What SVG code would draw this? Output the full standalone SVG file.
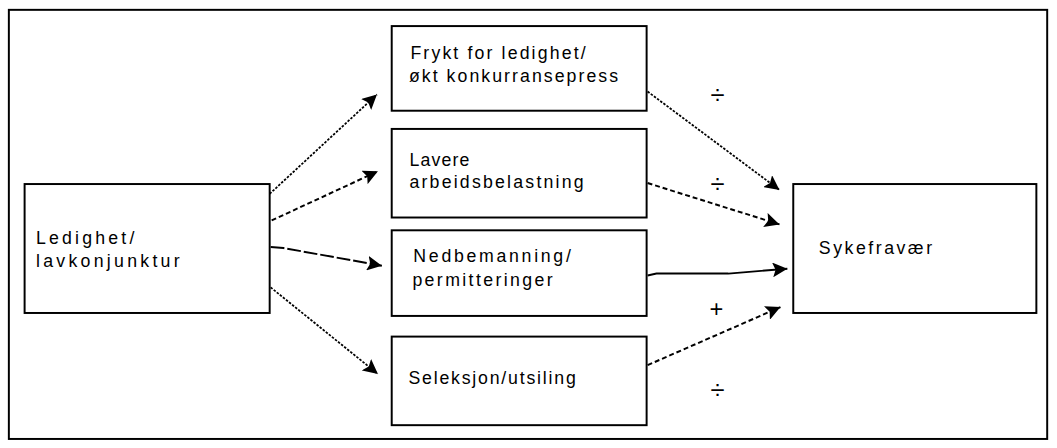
<svg xmlns="http://www.w3.org/2000/svg" width="1057" height="448" viewBox="0 0 1057 448">
  <style>
    .box { fill: #ffffff; stroke: #000000; stroke-width: 2; }
    .frame { fill: none; stroke: #000000; stroke-width: 2; }
    .lbl { font-family: "Liberation Sans", Arial, sans-serif; font-size: 18px; fill: #000000; }
    .sign { font-family: "Liberation Sans", Arial, sans-serif; font-size: 26px; fill: #000000; text-anchor: middle; }
    .plus { font-family: "Liberation Sans", Arial, sans-serif; font-size: 24px; fill: #000000; text-anchor: middle; }
    .dot { fill: none; stroke: #000000; stroke-width: 1.8; stroke-dasharray: 2.5 1.5; }
    .dash { fill: none; stroke: #000000; stroke-width: 2; stroke-dasharray: 5 3; }
    .long { fill: none; stroke: #000000; stroke-width: 2; stroke-dasharray: 14 3; }
    .solid { fill: none; stroke: #000000; stroke-width: 2; }
  </style>
  <defs>
    <marker id="ah" markerUnits="userSpaceOnUse" markerWidth="17" markerHeight="15" refX="15" refY="7.5" orient="auto">
      <path d="M0,0 L15,7.5 L0,15 L3,7.5 z" fill="#000000"/>
    </marker>
  </defs>
  <g transform="scale(0.9842)">
    <rect class="frame" x="9" y="10" width="1055" height="436"/>

    <g id="connectors">
      <line class="dot" x1="274" y1="197" x2="383" y2="96" marker-end="url(#ah)"/>
      <line class="dash" x1="276" y1="224" x2="384" y2="174" marker-end="url(#ah)"/>
      <polyline class="long" points="275,251 288,252 388,270" marker-end="url(#ah)"/>
      <line class="dot" x1="275" y1="292" x2="384" y2="380" marker-end="url(#ah)"/>
      <line class="dot" x1="658" y1="93" x2="792" y2="193" marker-end="url(#ah)"/>
      <line class="dash" x1="658" y1="186" x2="792" y2="228" marker-end="url(#ah)"/>
      <polyline class="solid" points="658,280 667,278 740,278 800,273" marker-end="url(#ah)"/>
      <line class="dash" x1="658" y1="371" x2="793" y2="312" marker-end="url(#ah)"/>
      <text class="sign" x="729" y="106">÷</text>
      <text class="sign" x="729" y="196">÷</text>
      <text class="plus" x="728" y="322">+</text>
      <text class="sign" x="729" y="405">÷</text>
    </g>

    <g id="ledighet">
      <rect class="box" x="25" y="187" width="249" height="131"/>
      <text class="lbl" x="36.5" y="248" textLength="100" lengthAdjust="spacing">Ledighet/</text>
      <text class="lbl" x="36.5" y="271.5" textLength="146" lengthAdjust="spacing">lavkonjunktur</text>
    </g>
    <g id="frykt">
      <rect class="box" x="398" y="26.5" width="259" height="86"/>
      <text class="lbl" x="417" y="59.5" textLength="178" lengthAdjust="spacing">Frykt for ledighet/</text>
      <text class="lbl" x="415.5" y="83.5" textLength="212.5" lengthAdjust="spacing">økt konkurransepress</text>
    </g>
    <g id="lavere">
      <rect class="box" x="398" y="131" width="259" height="90"/>
      <text class="lbl" x="416" y="168.5" textLength="61" lengthAdjust="spacing">Lavere</text>
      <text class="lbl" x="416" y="191" textLength="177" lengthAdjust="spacing">arbeidsbelastning</text>
    </g>
    <g id="nedbemanning">
      <rect class="box" x="398" y="234" width="259" height="87"/>
      <text class="lbl" x="420" y="266.5" textLength="160" lengthAdjust="spacing">Nedbemanning/</text>
      <text class="lbl" x="419" y="290.5" textLength="142.5" lengthAdjust="spacing">permitteringer</text>
    </g>
    <g id="seleksjon">
      <rect class="box" x="398" y="342" width="259" height="90"/>
      <text class="lbl" x="415" y="390" textLength="170" lengthAdjust="spacing">Seleksjon/utsiling</text>
    </g>
    <g id="sykefravaer">
      <rect class="box" x="806" y="187" width="247" height="131"/>
      <text class="lbl" x="832" y="258.5" textLength="115" lengthAdjust="spacing">Sykefravær</text>
    </g>
  </g>
</svg>
